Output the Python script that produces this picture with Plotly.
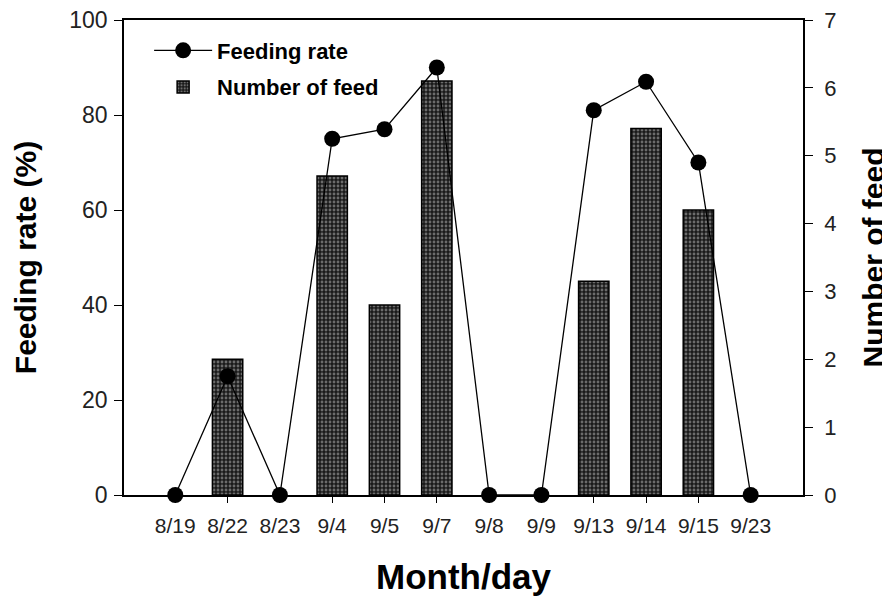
import plotly.graph_objects as go

dates = ["8/19", "8/22", "8/23", "9/4", "9/5", "9/7", "9/8", "9/9", "9/13", "9/14", "9/15", "9/23"]
feeding_rate = [0, 25, 0, 75, 77, 90, 0, 0, 81, 87, 70, 0]
number_of_feed = [None, 2.0, None, 4.7, 2.8, 6.1, None, None, 3.15, 5.4, 4.2, None]

FONT = "Liberation Sans, Arial, sans-serif"

fig = go.Figure()

fig.add_trace(go.Bar(
    x=dates, y=number_of_feed, name="Number of feed",
    yaxis="y", width=0.58, legendgroup="b", legendrank=2,
    marker=dict(
        color="#1a1a1a",
        line=dict(color="black", width=1.5),
        pattern=dict(shape=".", fgcolor="#bdbdbd", bgcolor="#1a1a1a", size=4, solidity=0.4),
    ),
))

fig.add_trace(go.Scatter(
    x=dates, y=feeding_rate, name="Feeding rate",
    yaxis="y2", mode="lines+markers", legendgroup="a", legendrank=1,
    line=dict(color="black", width=1.3),
    marker=dict(color="black", size=16, symbol="circle"),
    cliponaxis=False,
))

fig.update_layout(
    width=882, height=588,
    margin=dict(l=116, r=87, t=12, b=101),
    plot_bgcolor="white", paper_bgcolor="white",
    font=dict(family=FONT, color="#222"),
    showlegend=True,
    legend=dict(
        x=0.037, y=0.98, xanchor="left", yanchor="top",
        font=dict(family=FONT, size=22, color="black", weight="bold"),
        bgcolor="rgba(0,0,0,0)", traceorder="grouped",
        tracegroupgap=5, itemwidth=58,
    ),
    xaxis=dict(
        type="category", categoryorder="array", categoryarray=dates,
        range=[-0.98, 12.0], automargin=False,
        showline=True, linecolor="black", linewidth=1.5, mirror=True,
        ticks="outside", ticklen=6, tickcolor="black", ticklabelstandoff=5,
        tickfont=dict(size=21, color="#222"), ticklabeloverflow="allow",
        showgrid=False,
        title=dict(text="Month/day", font=dict(size=35, color="black", weight="bold"), standoff=30),
    ),
    yaxis=dict(
        side="right", range=[0, 7], dtick=1, automargin=False,
        showline=True, linecolor="black", linewidth=1.5,
        ticks="outside", ticklen=8, tickcolor="black", ticklabelstandoff=7,
        tickfont=dict(size=22, color="#222"), ticklabeloverflow="allow",
        showgrid=False, zeroline=False,
        title=dict(text="Number of feed", font=dict(size=30, color="black", weight="bold"), standoff=30),
    ),
    yaxis2=dict(
        overlaying="y", side="left", range=[0, 100], dtick=20, automargin=False,
        showline=True, linecolor="black", linewidth=1.5,
        ticks="outside", ticklen=8, tickcolor="black", ticklabelstandoff=2,
        tickfont=dict(size=23, color="#222"), ticklabeloverflow="allow",
        showgrid=False, zeroline=False,
        title=dict(text="Feeding rate (%)", font=dict(size=30, color="black", weight="bold"), standoff=24),
    ),
)

fig.write_html("out.html")
